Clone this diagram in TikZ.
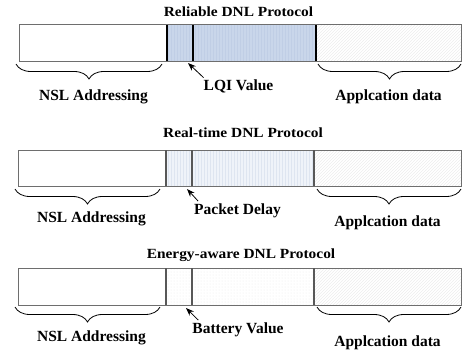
\documentclass[tikz,border=0pt]{standalone}
\usepackage{fontspec}
\setmainfont{Liberation Serif}
\usetikzlibrary{patterns,decorations.pathreplacing,arrows.meta}

\definecolor{lqiblue}{RGB}{201,214,234}
\definecolor{lqiline}{RGB}{192,206,229}
\definecolor{delayfill}{RGB}{239,243,249}
\definecolor{delayline}{RGB}{222,229,240}
\definecolor{framegray}{RGB}{110,110,110}

\tikzset{
  lbl/.style={font=\bfseries\fontsize{15.5}{17}\selectfont, inner sep=0pt, anchor=base},
  ttl/.style={font=\bfseries\fontsize{14}{16}\selectfont, xscale=1.1, inner sep=0pt, anchor=base},
  brc/.style={decorate, decoration={brace, mirror, amplitude=15pt}, line width=0.8pt},
  ptr/.style={-{Stealth[length=8pt,width=6pt]}, line width=0.8pt},
  frame/.style={draw=framegray, line width=1pt},
  divider/.style={line width=1.1pt},
}

\begin{document}
\begin{tikzpicture}[x=1pt,y=-1pt]
\useasboundingbox (0,0) rectangle (462,353);
%	row 1: reliable
\node[ttl] (t1) at (238.5,16.7) {Reliable DNL Protocol};
\fill[white] (19,25) rectangle (167,61);
\fill[lqiblue] (167,25) rectangle (316,61);
\fill[pattern=vertical lines, pattern color=lqiline] (167,25) rectangle (316,61);
\fill[pattern=north east lines, pattern color=gray!14] (316,25) rectangle (461,61);
\draw[frame] (19,25) rectangle (461,61);
\draw[divider] (167,25) -- (167,61);
\draw[divider] (193,25) -- (193,61);
\draw[divider] (316,25) -- (316,61);
\draw[brc] (16,64) -- (162,64);
\draw[brc] (318,64) -- (461,64);
\node[lbl] (n1) at (93.5,100) {NSL Addressing};
\node[lbl] (v1) at (238.5,90.5) {LQI Value};
\node[lbl] (a1) at (388.5,100.5) {Applcation data};
\coordinate (p1) at (188,63);
\draw[ptr] ([shift={(0pt,2pt)}]v1.north west) -- (p1);
%	row 2: real-time
\node[ttl] (t2) at (243,137) {Real-time DNL Protocol};
\fill[white] (18,150) rectangle (166,186);
\fill[delayfill] (166,150) rectangle (314,186);
\fill[pattern=vertical lines, pattern color=delayline] (166,150) rectangle (314,186);
\fill[pattern=north east lines, pattern color=gray!14] (314,150) rectangle (461,186);
\draw[frame] (18,150) rectangle (461,186);
\draw[divider, draw=framegray!80!black] (166,150) -- (166,186);
\draw[divider, draw=framegray!80!black] (192,150) -- (192,186);
\draw[divider, draw=framegray!80!black] (314,150) -- (314,186);
\draw[brc] (15,189) -- (160,189);
\draw[brc] (317,189) -- (461,189);
\node[lbl] (n2) at (91.5,222) {NSL Addressing};
\node[lbl] (v2) at (237.5,214) {Packet Delay};
\node[lbl] (a2) at (387.5,226) {Applcation data};
\coordinate (p2) at (187,189);
\draw[ptr] ([shift={(4pt,2pt)}]v2.north west) -- (p2);
%	row 3: energy-aware
\node[ttl] (t3) at (241,258) {Energy-aware DNL Protocol};
\fill[white] (18,268) rectangle (166,305);
\fill[pattern=dots, pattern color=gray!18] (166,268) rectangle (314,305);
\fill[pattern=north east lines, pattern color=gray!14] (314,268) rectangle (461,305);
\draw[frame] (18,268) rectangle (461,305);
\draw[divider, draw=framegray!80!black] (166,268) -- (166,305);
\draw[divider, draw=framegray!80!black] (192,268) -- (192,305);
\draw[divider, draw=framegray!80!black] (314,268) -- (314,305);
\draw[brc] (15,307) -- (160,307);
\draw[brc] (317,307) -- (461,307);
\node[lbl] (n3) at (91.5,341) {NSL Addressing};
\node[lbl] (v3) at (238,333) {Battery Value};
\node[lbl] (a3) at (387.5,346) {Applcation data};
\coordinate (p3) at (186,308);
\draw[ptr] ([shift={(6pt,2pt)}]v3.north west) -- (p3);
\end{tikzpicture}
\end{document}
